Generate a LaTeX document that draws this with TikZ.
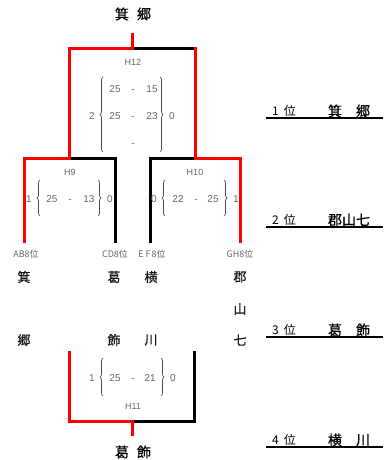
\documentclass[tikz,border=0pt]{standalone}
\usepackage{fontspec}
\setmainfont{Liberation Sans}
\newfontfamily\cjk{Noto Sans CJK JP}
\newfontfamily\cjkb{Noto Sans CJK JP}[FakeBold=0.6]
\usetikzlibrary{decorations.pathreplacing}
\begin{document}
\begin{tikzpicture}[x=1pt,y=-1pt,
  win/.style={draw=red,line width=3pt,line join=miter,line cap=rect},
  lose/.style={draw=black,line width=3pt,line join=miter,line cap=rect},
  score/.style={font=\fontsize{10}{10}\selectfont, text=black!60, inner sep=0pt, text height=7.2pt, text depth=0pt},
  gname/.style={font=\fontsize{9}{9}\selectfont, text=black!60, inner sep=0pt},
  slot/.style={font=\cjk\fontsize{9}{9}\selectfont, text=black!60, inner sep=0pt},
  team/.style={font=\cjkb\fontsize{13}{13}\selectfont, text=black!90, inner sep=0pt},
  rank/.style={font=\cjk\fontsize{12}{12}\selectfont, text=black, inner sep=0pt},
  rname/.style={font=\cjkb\fontsize{14}{14}\selectfont, text=black, inner sep=0pt},
  rline/.style={draw=black,line width=1.6pt},
  brc/.style={draw=black!70,line width=0.7pt,decorate,decoration={brace,amplitude=3pt}}
]
\useasboundingbox (0,0) rectangle (383,460);

% ---------- coordinates ----------
\coordinate (F0) at (132,35);  \coordinate (Fm) at (132,49);
\coordinate (Fl) at (69,49);   \coordinate (Fr) at (195,49);
\coordinate (A)  at (24,241);  \coordinate (Atop) at (24,158);
\coordinate (B)  at (115,241); \coordinate (Btop) at (115,158);
\coordinate (Lm) at (69,158);
\coordinate (C)  at (150,241); \coordinate (Ctop) at (150,158);
\coordinate (D)  at (240,241); \coordinate (Dtop) at (240,158);
\coordinate (Rm) at (195,158);
\coordinate (Tl) at (69,352);  \coordinate (Tlb) at (69,421);
\coordinate (Tr) at (194,352); \coordinate (Trb) at (194,421);
\coordinate (Tm) at (132,421); \coordinate (T0) at (132,434);

% ---------- bracket lines ----------
\draw[lose] (Lm) -- (Btop) -- (B);
\draw[lose] (C) -- (Ctop) -- (Rm);
\draw[lose] (Fm) -- (Fr);
\draw[lose] (Tr) -- (Trb) -- (Tm);
\draw[win] (A) -- (Atop) -- (Lm) -- (Fl) -- (Fm) -- (F0);
\draw[win] (D) -- (Dtop) -- (Rm) -- (Fr);
\draw[win] (Tl) -- (Tlb) -- (Tm) -- (T0);

% ---------- champion / 3rd place ----------
\node[rname] (champ) at (133,14) {箕\hspace{8pt}郷};
\node[rname] (third) at (133,452) {葛\hspace{8pt}飾};

% ---------- H12 ----------
\node[gname] (h12) at (133,62) {H12};
\node[score] (h12a1) at (115,89) {25};
\node[score] (h12d1) at (133,89) {-};
\node[score] (h12b1) at (152,89) {15};
\node[score] (h12a2) at (115,116) {25};
\node[score] (h12d2) at (133,116) {-};
\node[score] (h12b2) at (152,116) {23};
\node[score] (h12d3) at (133,143) {-};
\node[score] (h12l) at (92,116) {2};
\node[score] (h12r) at (172,116) {0};
\draw[brc] (103,152) -- (103,77);
\draw[brc] (160,77) -- (160,152);

% ---------- H9 ----------
\node[gname] (h9) at (70,172) {H9};
\node[score] (h9l) at (29,199) {1};
\node[score] (h9a) at (52,199) {25};
\node[score] (h9d) at (70,199) {-};
\node[score] (h9b) at (89,199) {13};
\node[score] (h9r) at (110,199) {0};
\draw[brc] (40,216) -- (40,180);
\draw[brc] (98,180) -- (98,216);

% ---------- H10 ----------
\node[gname] (h10) at (195,172) {H10};
\node[score] (h10l) at (154,199) {0};
\node[score] (h10a) at (178,199) {22};
\node[score] (h10d) at (196,199) {-};
\node[score] (h10b) at (213,199) {25};
\node[score] (h10r) at (236,199) {1};
\draw[brc] (165,216) -- (165,180);
\draw[brc] (224,180) -- (224,216);

% ---------- H11 ----------
\node[gname] (h11) at (133,406) {H11};
\node[score] (h11l) at (92,378) {1};
\node[score] (h11a) at (115,378) {25};
\node[score] (h11d) at (133,378) {-};
\node[score] (h11b) at (150,378) {21};
\node[score] (h11r) at (173,378) {0};
\draw[brc] (103,396) -- (103,358);
\draw[brc] (161,358) -- (161,396);

% ---------- slots ----------
\node[slot] (sAB) at (26,254) {AB8位};
\node[slot] (sCD) at (115,254) {CD8位};
\node[slot] (sEF) at (152,254) {E\hspace{2pt}F\hspace{1pt}8位};
\node[slot] (sGH) at (240,254) {GH8位};

% ---------- teams (vertical) ----------
\node[team] (t1a) at (24,277) {箕};
\node[team] (t1b) at (24,340) {郷};
\node[team] (t2a) at (114,277) {葛};
\node[team] (t2b) at (114,340) {飾};
\node[team] (t3a) at (151,277) {横};
\node[team] (t3b) at (151,340) {川};
\node[team] (t4a) at (240,277) {郡};
\node[team] (t4b) at (240,309) {山};
\node[team] (t4c) at (240,340) {七};

% ---------- ranking ----------
\foreach \n/\yy/\nm in {1/111/{箕\hspace{14pt}郷},2/220/{郡山七},3/330/{葛\hspace{14pt}飾},4/440/{横\hspace{14pt}川}}{
  \node[rank] (rk\n) at (284,\yy) {\n\hspace{5pt}位};
  \node[rname] (rn\n) at (349,\yy) {\nm};
  \coordinate (rl\n) at (266,\yy+7);
  \coordinate (rr\n) at (383,\yy+7);
  \draw[rline] (rl\n) -- (rr\n);
}
\end{tikzpicture}
\end{document}
